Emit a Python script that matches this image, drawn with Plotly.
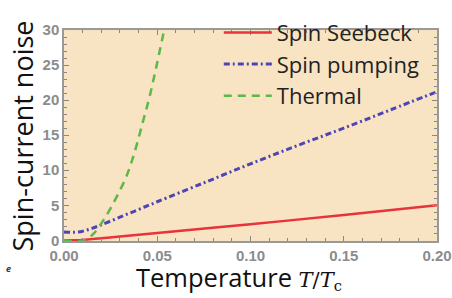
import plotly.graph_objects as go

temp_seebeck = [0.0, 0.01, 0.02, 0.03, 0.05, 0.1, 0.15, 0.2]
spin_seebeck = [0.0, 0.05, 0.3, 0.55, 1.05, 2.3, 3.6, 5.0]

temp_pumping = [0.0, 0.005, 0.01, 0.015, 0.02, 0.03, 0.04, 0.05, 0.075, 0.1, 0.125, 0.15, 0.175, 0.2]
spin_pumping = [1.2, 1.15, 1.3, 1.7, 2.2, 3.3, 4.4, 5.5, 8.2, 10.9, 13.5, 16.0, 18.6, 21.2]

temp_thermal = [0.0, 0.011, 0.0157, 0.020, 0.0246, 0.029, 0.0336, 0.038, 0.0425, 0.046, 0.0497, 0.0537]
thermal = [0.0, 0.0, 0.9, 2.4, 4.4, 6.6, 9.2, 12.7, 17.1, 20.6, 25.0, 30.0]

x_ticks = [0.0, 0.05, 0.10, 0.15, 0.20]
x_tick_labels = ["0.00", "0.05", "0.10", "0.15", "0.20"]
y_ticks = [0, 5, 10, 15, 20, 25, 30]

fig = go.Figure()
fig.add_trace(go.Scatter(x=temp_seebeck, y=spin_seebeck, mode="lines", name="Spin Seebeck",
                         line=dict(color="#E8323C", width=2.5), line_shape="spline"))
fig.add_trace(go.Scatter(x=temp_pumping, y=spin_pumping, mode="lines", name="Spin pumping",
                         line=dict(color="#4E45B5", width=3, dash="6px,3px,2px,3px"), line_shape="spline"))
fig.add_trace(go.Scatter(x=temp_thermal, y=thermal, mode="lines", name="Thermal",
                         line=dict(color="#5DB84A", width=2.5, dash="8px,6px"), line_shape="spline"))

tickfont = dict(family="Liberation Sans", size=15, color="#8C8C8C", weight="bold")
fig.update_layout(
    width=452, height=298,
    margin=dict(l=64, r=15, t=13, b=57, pad=0),
    paper_bgcolor="white",
    plot_bgcolor="#F8E3C2",
    font=dict(family="Open Sans", color="#222"),
    legend=dict(x=0.415, y=1.087, xanchor="left", yanchor="top", bgcolor="rgba(0,0,0,0)",
                font=dict(family="Open Sans", size=22, color="#222"), tracegroupgap=0, itemwidth=48),
    showlegend=True,
)
fig.update_xaxes(range=[0, 0.2], tickvals=x_ticks, ticktext=x_tick_labels, tickfont=tickfont,
                 automargin=False,
                 ticks="inside", ticklen=5, tickcolor="#888", mirror="allticks",
                 showline=True, linecolor="#999", linewidth=1.5, showgrid=False, zeroline=False,
                 minor=dict(dtick=0.01, ticks="inside", ticklen=3, tickcolor="#888"))
fig.update_yaxes(range=[-0.1, 30], tickvals=y_ticks, tickfont=tickfont,
                 automargin=False,
                 ticks="inside", ticklen=5, tickcolor="#888", mirror="allticks",
                 showline=True, linecolor="#999", linewidth=1.5, showgrid=False, zeroline=False,
                 minor=dict(dtick=1, ticks="inside", ticklen=3, tickcolor="#888"))

fig.add_annotation(
    text='Temperature <span style="font-family:\'DejaVu Serif\';font-size:21px"><i>T</i>/<i>T</i><sub>c</sub></span>',
    xref="paper", yref="paper", x=0.47, y=-0.172, xanchor="center", yanchor="middle",
    showarrow=False, font=dict(family="Open Sans", size=25.5, color="#111"))
fig.add_annotation(
    text="Spin-current noise", textangle=-90,
    xref="paper", yref="paper", x=-0.11, y=0.5, xanchor="center", yanchor="middle",
    showarrow=False, font=dict(family="Open Sans", size=27, color="#111"))
fig.add_annotation(text="<i><b>e</b></i>", xref="paper", yref="paper", x=-0.15, y=-0.13,
                   xanchor="center", yanchor="middle", showarrow=False,
                   font=dict(size=9, color="#333"))
fig.write_html("out.html", config={"displayModeBar": False},
               post_script="document.body.style.margin='0';")
